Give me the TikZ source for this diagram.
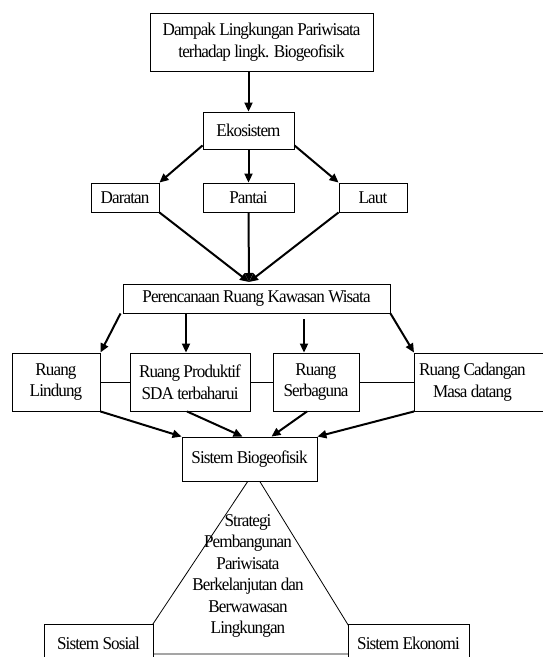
\documentclass[tikz,border=0pt]{standalone}
\usepackage{fontspec}
\setmainfont{Liberation Serif}[FakeStretch=0.95, LetterSpace=-5]
\usetikzlibrary{arrows.meta, calc}

\begin{document}
\begin{tikzpicture}[x=1pt, y=-1pt, >={Triangle[length=9pt, width=8pt]},
  txt/.style={align=center, font=\fontsize{18}{21.5}\selectfont},
  box/.style={txt, draw, line width=0.9pt, fill=white, inner sep=2pt},
  flow/.style={->, line width=2pt},
  link/.style={line width=0.8pt}]

\useasboundingbox (0,0) rectangle (542,657);

% Top of the chart
\node[box, minimum width=223pt, minimum height=58pt] (dampak) at (261.5,42)
  {Dampak Lingkungan Pariwisata\\terhadap lingk. Biogeofisik};
\node[box, minimum width=91pt, minimum height=37pt] (eko) at (248.5,130.5) {Ekosistem};

% Ecosystem types
\node[box, minimum width=68pt, minimum height=29pt] (darat) at (125,197.5) {Daratan};
\node[box, minimum width=91pt, minimum height=29pt] (pantai) at (248.5,197.5) {Pantai};
\node[box, minimum width=68pt, minimum height=29pt] (laut) at (373,197.5) {Laut};

\node[box, minimum width=267pt, minimum height=29pt] (rencana) at (256.5,298.5)
  {Perencanaan Ruang Kawasan Wisata};
\coordinate (temu) at (249,282);

% Spatial zones
\node[box, minimum width=88pt, minimum height=58pt] (lindung) at (56,382) {Ruang\\Lindung};
\node[box, minimum width=120pt, minimum height=58pt] (produktif) at (190,382)
  {Ruang Produktif\\SDA terbaharui};
\node[box, minimum width=86pt, minimum height=58pt] (serbaguna) at (316,382) {Ruang\\Serbaguna};
\node[box, minimum width=140pt, minimum height=58pt, anchor=west,
      label={[txt, xshift=-12pt]center:Ruang Cadangan\\Masa datang}] (cadangan) at (414,382) {};

\draw[link] (lindung) -- (produktif);
\draw[link] (produktif) -- (serbaguna);
\draw[link] (serbaguna) -- (cadangan);

% Triangle of the three systems
\coordinate (puncak) at (254,472);
\coordinate (kiri) at (133,654);
\coordinate (kanan) at (366,654);
\draw[link] (puncak) -- (kiri) -- (kanan) -- cycle;
\node[txt] (strategi) at (248,576)
  {Strategi\\Pembangunan\\Pariwisata\\Berkelanjutan dan\\Berwawasan\\Lingkungan};

\node[box, minimum width=135pt, minimum height=44pt] (bio) at (249.5,459) {Sistem Biogeofisik};
\node[box, minimum width=109pt, minimum height=38pt] (sosial) at (98.5,643) {Sistem Sosial};
\node[box, minimum width=121pt, minimum height=38pt] (ekonomi) at (408.5,643) {Sistem Ekonomi};

% Arrows
\draw[flow] (eko.north |- dampak.south) -- (eko.north);
\draw[flow] (eko.198) -- (darat.north east);
\draw[flow] (eko.south) -- (pantai.north);
\draw[flow] (eko.-18) -- (laut.north west);

\draw[flow] (darat.south east) -- (temu);
\draw[flow] (pantai.south) -- (temu);
\draw[flow] (laut.south west) -- (temu);

\draw[flow] ([xshift=-2pt]rencana.south west) -- (lindung.north east);
\draw[flow] ([xshift=-4pt]produktif.north |- rencana.south) -- ([xshift=-4pt]produktif.north);
\draw[flow] ([xshift=-12pt,yshift=-6pt]serbaguna.north |- rencana.south) -- ([xshift=-12pt]serbaguna.north);
\draw[flow] (rencana.south east) -- (cadangan.north west);

\draw[flow] (lindung.south east) -- (bio.north west);
\draw[flow] ([xshift=-3pt]produktif.south) -- ([xshift=-7pt]bio.north);
\draw[flow] ([xshift=-9pt]serbaguna.south) -- ([xshift=22pt]bio.north);
\draw[flow] (cadangan.south west) -- (bio.north east);

\end{tikzpicture}
\end{document}
